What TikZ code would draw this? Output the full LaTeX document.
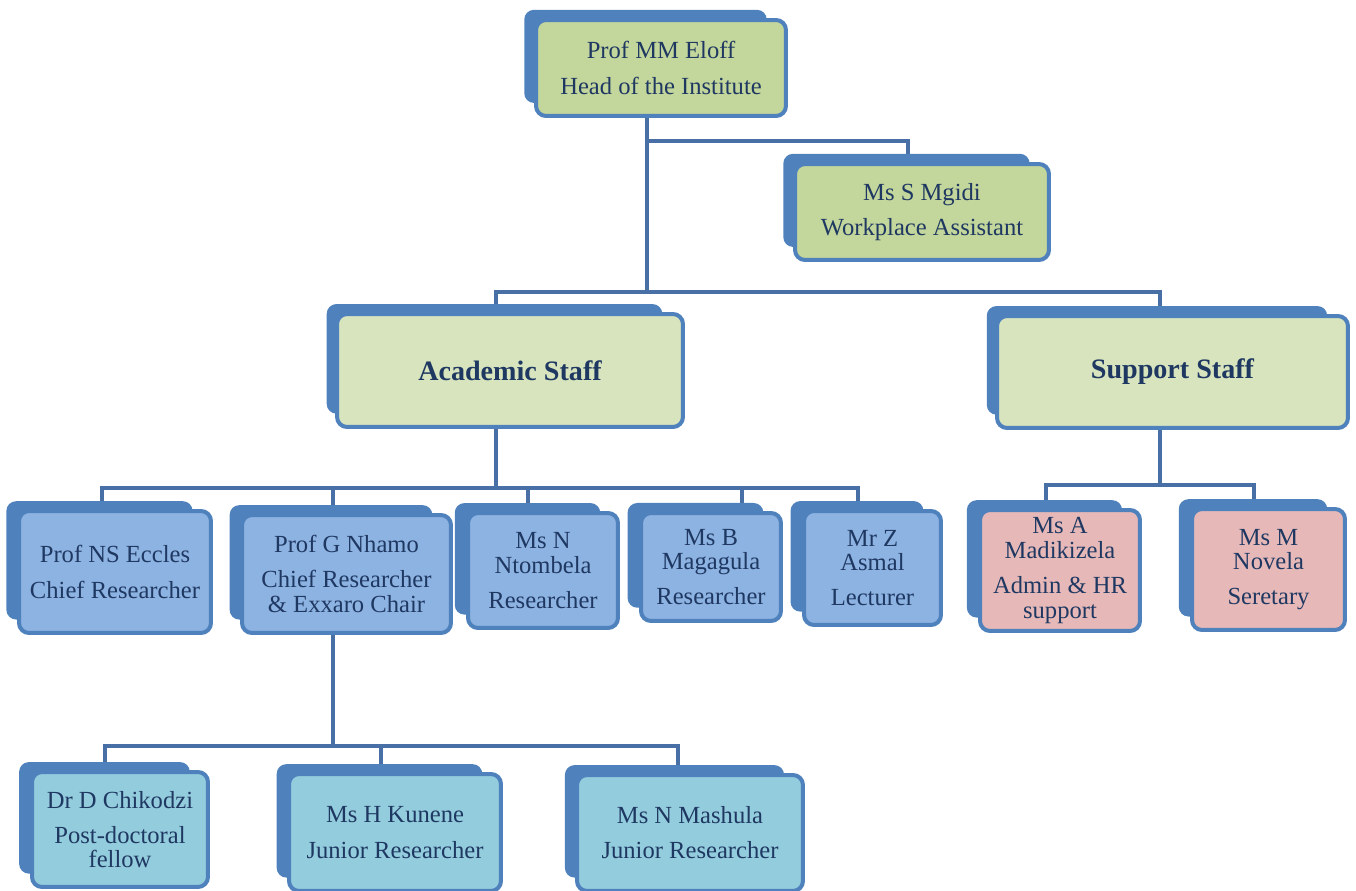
\documentclass[tikz,border=0pt]{standalone}
\usepackage{fontspec}
\setmainfont{Liberation Serif}
\usetikzlibrary{shadows,backgrounds}
\definecolor{edgeblue}{HTML}{4F81BD}
\definecolor{lineblue}{HTML}{4870A6}
\definecolor{inkblue}{HTML}{1F3862}
\definecolor{headgreen}{HTML}{C3D69B}
\definecolor{staffgreen}{HTML}{D7E4BD}
\definecolor{acadblue}{HTML}{8DB3E2}
\definecolor{supppink}{HTML}{E6B9B8}
\definecolor{juniorblue}{HTML}{93CDDD}
\begin{document}
\begin{tikzpicture}[x=0.02cm, y=-0.02cm,
                    card/.style={draw=edgeblue, line width=0.08cm, rounded corners=0.2cm,
                                 align=center, text=inkblue, font=\fontsize{14}{20}\selectfont,
                                 general shadow={fill=edgeblue, shadow scale=0.97,
                                                 shadow xshift=-0.32cm, shadow yshift=0.24cm}},
                    size/.style 2 args={minimum width=#1, minimum height=#2},
                    link/.style={draw=lineblue, line width=0.08cm, line cap=rect}]
\useasboundingbox (0,0) rectangle (1356,891);
% top of the institute
\node[card, size={5.00cm}{1.92cm}, fill=headgreen] (eloff) at (661,68) {Prof MM Eloff\\Head of the Institute};
\node[card, size={5.08cm}{1.92cm}, fill=headgreen] (mgidi) at (922,212) {Ms S Mgidi\\Workplace Assistant};
% the two groups
\node[card, size={6.92cm}{2.26cm}, fill=staffgreen, font=\fontsize{16}{20}\selectfont\bfseries] (academic) at (510,370.5) {Academic Staff};
\node[card, size={7.02cm}{2.24cm}, fill=staffgreen, font=\fontsize{16}{20}\selectfont\bfseries] (support) at (1172.5,372) {Support Staff};
% academic staff
\node[card, size={3.84cm}{2.44cm}, fill=acadblue] (eccles) at (115,572) {Prof NS Eccles\\Chief Researcher};
\node[card, size={4.18cm}{2.36cm}, fill=acadblue] (nhamo) at (346.5,574) {Prof G Nhamo\\Chief Researcher\\[-6pt]\& Exxaro Chair};
\node[card, size={3.00cm}{2.30cm}, fill=acadblue] (ntombela) at (543,570.5) {Ms N\\[-6pt]Ntombela\\Researcher};
\node[card, size={2.80cm}{2.16cm}, fill=acadblue] (magagula) at (711,567) {Ms B\\[-6pt]Magagula\\Researcher};
\node[card, size={2.74cm}{2.28cm}, fill=acadblue] (asmal) at (872.5,568) {Mr Z\\[-6pt]Asmal\\Lecturer};
% support staff
\node[card, size={3.20cm}{2.42cm}, fill=supppink] (madikizela) at (1060,570.5) {Ms A\\[-6pt]Madikizela\\Admin \& HR\\[-6pt]support};
\node[card, size={3.06cm}{2.42cm}, fill=supppink] (novela) at (1268.5,569.5) {Ms M\\[-6pt]Novela\\Seretary};
% under Prof Nhamo
\node[card, size={3.52cm}{2.30cm}, fill=juniorblue] (chikodzi) at (120,829.5) {Dr D Chikodzi\\Post-doctoral\\[-6pt]fellow};
\node[card, size={4.24cm}{2.34cm}, fill=juniorblue] (kunene) at (395,832.5) {Ms H Kunene\\Junior Researcher};
\node[card, size={4.52cm}{2.32cm}, fill=juniorblue] (mashula) at (690,833) {Ms N Mashula\\Junior Researcher};
% connectors
\begin{scope}[on background layer]
\coordinate (headtap) at (647,141);
\coordinate (mgiditap) at (908,141);
\coordinate (staffbus) at (647,292);
\coordinate (acadtap) at (496,292);
\coordinate (supptap) at (1160,292);
\draw[link] (eloff.south -| headtap) -- (headtap) -- (staffbus);
\draw[link] (headtap) -- (mgiditap) -- (mgidi.north -| mgiditap);
\draw[link] (academic.north -| acadtap) -- (acadtap) -- (supptap) -- (support.north -| supptap);
\coordinate (acadbus) at (496,488);
\draw[link] (academic.south -| acadbus) -- (acadbus);
\foreach \n/\x in {eccles/102, nhamo/333, ntombela/528, magagula/742, asmal/858}
  \draw[link] (\x,488) coordinate (\n-tap) -- (\n.north -| \n-tap);
\draw[link] (eccles-tap) -- (asmal-tap);
\coordinate (suppbus) at (1160,485);
\draw[link] (support.south -| suppbus) -- (suppbus);
\foreach \n/\x in {madikizela/1046, novela/1254}
  \draw[link] (\x,485) coordinate (\n-tap) -- (\n.north -| \n-tap);
\draw[link] (madikizela-tap) -- (novela-tap);
\coordinate (juniorbus) at (333,746);
\draw[link] (nhamo.south -| juniorbus) -- (juniorbus);
\foreach \n/\x in {chikodzi/105, kunene/381, mashula/678}
  \draw[link] (\x,746) coordinate (\n-tap) -- (\n.north -| \n-tap);
\draw[link] (chikodzi-tap) -- (mashula-tap);
\end{scope}
\end{tikzpicture}
\end{document}
